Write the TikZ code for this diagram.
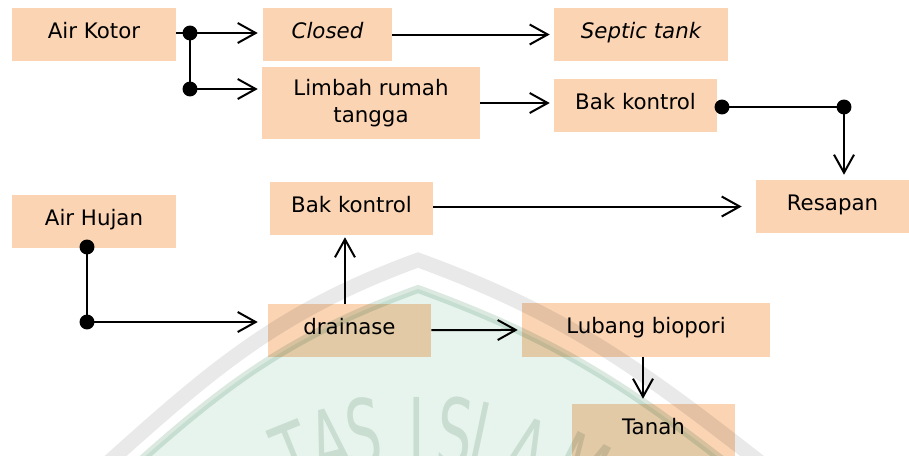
\documentclass[tikz,border=0pt]{standalone}
\usepackage{fontspec}
\setmainfont{DejaVu Sans}
\newfontfamily\wmfont{DejaVu Sans}
\usetikzlibrary{arrows.meta}

\definecolor{boxfill}{HTML}{FBD4B4}
\definecolor{wmgrey}{HTML}{E9E9E9}
\definecolor{wmgreen}{HTML}{DBE9E1}
\definecolor{wmfill}{HTML}{E6F4ED}
\definecolor{wmtext}{HTML}{E0E7E1}

% one letter of the seal lettering, narrowed
\newcommand{\sealchar}[1]{\scalebox{0.6}[1]{#1}}

\begin{document}
\begin{tikzpicture}[x=0.75pt,y=-0.75pt,
  box/.style={fill=boxfill, inner sep=0pt, minimum width=122.25pt,
    minimum height=39.75pt, font=\fontsize{16}{20.25}\selectfont, align=center},
  one/.style={text height=12pt, text depth=5.8pt},
  link/.style={line width=1.5pt},
  arr/.style={link, -{Straight Barb[length=13.5pt,width=15pt]}},
  dot/.style={fill=black},
  wmletter/.style={wmtext, inner sep=0pt, anchor=north,
    font=\wmfont\fontsize{70}{70}\selectfont}]
\useasboundingbox (0,0) rectangle (909,455);

% ---------- boxes ----------
\node[box, one, minimum width=123pt]    (airkotor) at (94,34.5)    {Air Kotor};
\node[box, one, minimum width=96.75pt]  (closed)   at (327.5,34.5) {\itshape Closed};
\node[box, one, minimum width=130.5pt]  (septic)   at (641,34.5)   {\itshape Septic tank};
\node[box, minimum width=163.5pt, minimum height=54pt] (limbah) at (371,103) {Limbah rumah\\tangga};
\node[box, one]                         (bakA)     at (635.5,105.5) {Bak kontrol};
\node[box, one, minimum width=114.75pt] (resapan)  at (832.5,206.5) {Resapan};
\node[box, one, minimum width=123pt]    (airhujan) at (94,221.5)   {Air Hujan};
\node[box, one]                         (bakB)     at (351.5,208.5) {Bak kontrol};
\node[box, one]                         (drainase) at (349.5,330.5) {drainase};
\node[box, one, minimum width=186pt, minimum height=40.5pt] (lubang) at (646,329.5) {Lubang biopori};
\node[box, one]                         (tanah)    at (653.5,430.5) {Tanah};

% ---------- junction points ----------
\coordinate (d1) at (190,33);
\coordinate (d2) at (190,89);
\coordinate (d3) at (722,107);
\coordinate (d4) at (844,107);
\coordinate (d5) at (87,247);
\coordinate (d6) at (87,322);

% ---------- connectors ----------
% waste water
\draw[link] (airkotor.east |- d1) -- (d1) -- (d2);
\draw[arr, shorten >=3.75pt] (d1) -- (d1 -| closed.west);
\draw[arr, shorten >=3pt] (d2) -- (d2 -| limbah.west);
\draw[arr, shorten >=3pt] (closed) -- (septic);
\draw[arr, shorten >=3pt] (limbah) -- (limbah -| bakA.west);
\draw[link] (d3) -- (d4);
\draw[arr, shorten >=3.75pt] (d4) -- (d4 |- resapan.north);
% rain water
\draw[link] (d5) -- (d6);
\draw[arr, shorten >=7.5pt] (d6) -- (d6 -| drainase.west);
\draw[arr, shorten >=1.5pt] ([xshift=-3.4pt]drainase.north) -- ([xshift=-3.4pt]drainase.north |- bakB.south);
\draw[arr, shorten >=10.5pt] (bakB.east |- resapan) -- (resapan.west);
\draw[arr, shorten >=3pt] (drainase) -- (lubang);
\draw[arr, shorten >=3.75pt] ([xshift=-2.25pt]lubang.south) -- ([xshift=-2.25pt]lubang.south |- tanah.north);

\foreach \p in {d1,d2,d3,d4,d5,d6} \fill[dot] (\p) circle[radius=5.6pt];

% ---------- background seal ----------
\begin{scope}[blend mode=multiply]
  \clip (0,0) rectangle (909,455);
  \fill[wmfill] (130,470) to[out=42,in=200] (418,289) to[out=-20,in=142] (735,470) -- cycle;
  \draw[wmgreen, line width=6pt, line join=miter]
    (130,470) to[out=42,in=200] (418,289) to[out=-20,in=142] (735,470);
  \draw[wmgrey, line width=11pt, line join=miter]
    (100,470) to[out=42,in=200] (418,260) to[out=-20,in=142] (770,470);
  \node[wmletter, rotate=22]  (wT) at (282,425) {\sealchar{T}};
  \node[wmletter, rotate=14]  (wA) at (322,410) {\sealchar{A}};
  \node[wmletter, rotate=6]   (wS) at (360,397) {\sealchar{S}};
  \node[wmletter, rotate=0]   (wI) at (417,397) {\sealchar{I}};
  \node[wmletter, rotate=-5]  (wU) at (458,397) {\sealchar{S}};
  \node[wmletter, rotate=-12] (wL) at (494,404) {\sealchar{L}};
  \node[wmletter, rotate=-20] (wB) at (538,420) {\sealchar{A}};
  \node[wmletter, rotate=-27] (wM) at (595,440) {\sealchar{M}};
\end{scope}
\end{tikzpicture}
\end{document}
